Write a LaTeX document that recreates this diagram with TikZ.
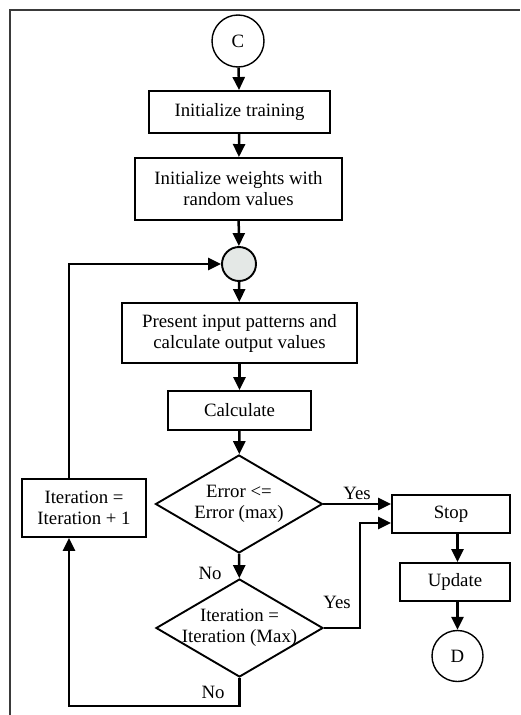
\documentclass[tikz,border=0pt]{standalone}
\usepackage{fontspec}
\setmainfont{Liberation Serif}
\usetikzlibrary{positioning, arrows.meta, calc, shapes.geometric}
\definecolor{FrameGrey}{HTML}{3A3A3A}
\definecolor{JoinGrey}{HTML}{E4E8E6}

\begin{document}
\begin{tikzpicture}[
    x=1pt, y=-1pt,
    every node/.style={font=\fontsize{18.8}{21}\selectfont},
    procbox/.style={rectangle, draw, line width=1.9pt, align=center, inner sep=0pt},
    decision/.style={diamond, draw, line width=1.9pt, inner sep=0pt, minimum width=167pt, minimum height=98pt},
    connector/.style={circle, draw, line width=1.4pt, minimum size=52pt, inner sep=0pt},
    flow/.style={-{Triangle[length=13pt, width=12pt]}, line width=2.5pt},
    tag/.style={inner sep=0pt}
]
  \useasboundingbox (0,0) rectangle (520,715);
  % Frame
  \draw[FrameGrey, line width=2.2pt] (10,715) -- (10,10) -- (520,10);
  % Main column
  \node[connector] (C) at (238,41) {C};
  \node[procbox, minimum width=181pt, minimum height=42pt] (train) at (239.5,112) {Initialize training};
  \node[procbox, minimum width=207pt, minimum height=62pt] (weights) at (238.5,189) {Initialize weights with\\random values};
  \node[circle, draw, fill=JoinGrey, line width=1.9pt, minimum size=34pt, inner sep=0pt] (join) at (239,264) {};
  \node[procbox, minimum width=235pt, minimum height=60pt] (present) at (239.5,333) {Present input patterns and\\calculate output values};
  \node[procbox, minimum width=143pt, minimum height=39pt] (calc) at (239.5,410.5) {Calculate};
  \node[decision, label={[align=center]center:{Error <=\\Error (max)}}] (err) at (239,504) {};
  \node[decision, label={[align=center]center:{Iteration =\\Iteration (Max)}}] (iter) at (239.5,628) {};
  % Side boxes
  \node[procbox, minimum width=124pt, minimum height=58pt] (inc) at (84,508) {Iteration =\\Iteration + 1};
  \node[procbox, minimum width=118pt, minimum height=38pt] (stop) at (451,514) {Stop};
  \node[procbox, minimum width=110pt, minimum height=38pt] (update) at (455,582) {Update};
  \node[connector, minimum size=51pt] (D) at (457.5,656) {D};
  % Links
  \draw[flow] (C) -- (train);
  \draw[flow] (train) -- (weights);
  \draw[flow] (weights) -- (join);
  \draw[flow] (join) -- (present);
  \draw[flow] (present) -- (calc);
  \draw[flow] (calc) -- (err);
  \draw[flow] (err) -- (iter);
  \draw[flow] (err.east) -- (err.east -| stop.west);
  \draw[flow] (iter.east) -- ++(36,0) |- ([yshift=-9pt]stop.west);
  \draw[flow] (iter.south) -- ++(0,28) -| ([xshift=-15pt]inc.south);
  \draw[flow] ([xshift=-15pt]inc.north) |- (join.west);
  \draw[flow] (stop.south -| D) -- (update.north -| D);
  \draw[flow] (update.south -| D) -- (D);
  % Labels
  \node[tag] (yes1) at (357,493) {Yes};
  \node[tag] (yes2) at (337,602) {Yes};
  \node[tag] (no1) at (210,573) {No};
  \node[tag] (no2) at (213,692) {No};
\end{tikzpicture}
\end{document}
